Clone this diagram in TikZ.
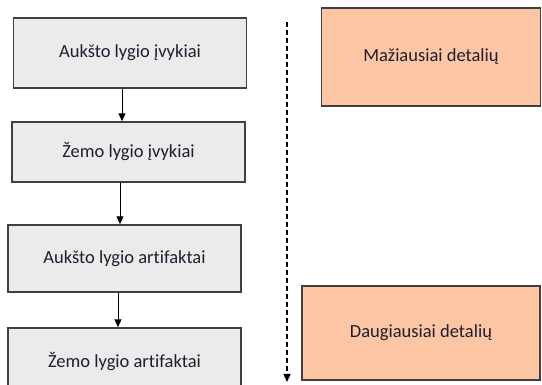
\documentclass[tikz,border=0pt]{standalone}
\usepackage{fontspec}
\setmainfont[Ligatures=NoCommon]{Carlito}
\usetikzlibrary{arrows.meta}
\definecolor{stepfill}{HTML}{EBEBEB}
\definecolor{detailfill}{HTML}{FCC5A3}
\definecolor{edge}{HTML}{404040}
\definecolor{txt}{HTML}{1E1E30}
\begin{document}
\begin{tikzpicture}[x=1pt,y=-1pt,
  level/.style={draw=edge,line width=1.4pt,fill=stepfill,minimum width=233pt,
    text=txt,font=\fontsize{18.5}{21}\selectfont,inner sep=0pt},
  detail/.style={draw=edge,line width=1.2pt,fill=detailfill,minimum width=219pt,
    text=txt,font=\fontsize{18.5}{21}\selectfont,inner sep=0pt},
  flow/.style={line width=1pt,draw=black,-{Triangle[length=8pt,width=7pt]}},
  scale arrow/.style={line width=1.3pt,draw=black,dash pattern=on 5pt off 3pt,
    -{Triangle[length=8pt,width=7pt]}}]
\useasboundingbox (0,0) rectangle (542,385);
\begin{scope}
\clip (0,0) rectangle (542,385);
% left column: levels
\node[level,minimum height=70pt] (b1) at (130,53) {Aukšto lygio įvykiai};
\node[level,minimum height=60pt] (b2) at (128.5,152) {Žemo lygio įvykiai};
\node[level,minimum height=67pt] (b3) at (124.5,258.5) {Aukšto lygio artifaktai};
\node[level,minimum height=67pt] (b4) at (124.5,361.5) {Žemo lygio artifaktai};
% right column: amount of detail
\node[detail,minimum height=98pt] (d1) at (431,57) {Mažiausiai detalių};
\node[detail,minimum height=94pt,minimum width=238pt] (d2) at (421,333) {Daugiausiai detalių};
\end{scope}
% connectors between levels
\draw[flow] (b1.south -| 122,0) -- (b2.north -| 122,0);
\draw[flow] (b2.south -| 120,0) -- (b3.north -| 120,0);
\draw[flow] (b3.south -| 118,0) -- (b4.north -| 118,0);
% detail axis
\coordinate (axtop) at (287,22);
\coordinate (axbot) at (287,382);
\draw[scale arrow] (axtop) -- (axbot);
\end{tikzpicture}
\end{document}
